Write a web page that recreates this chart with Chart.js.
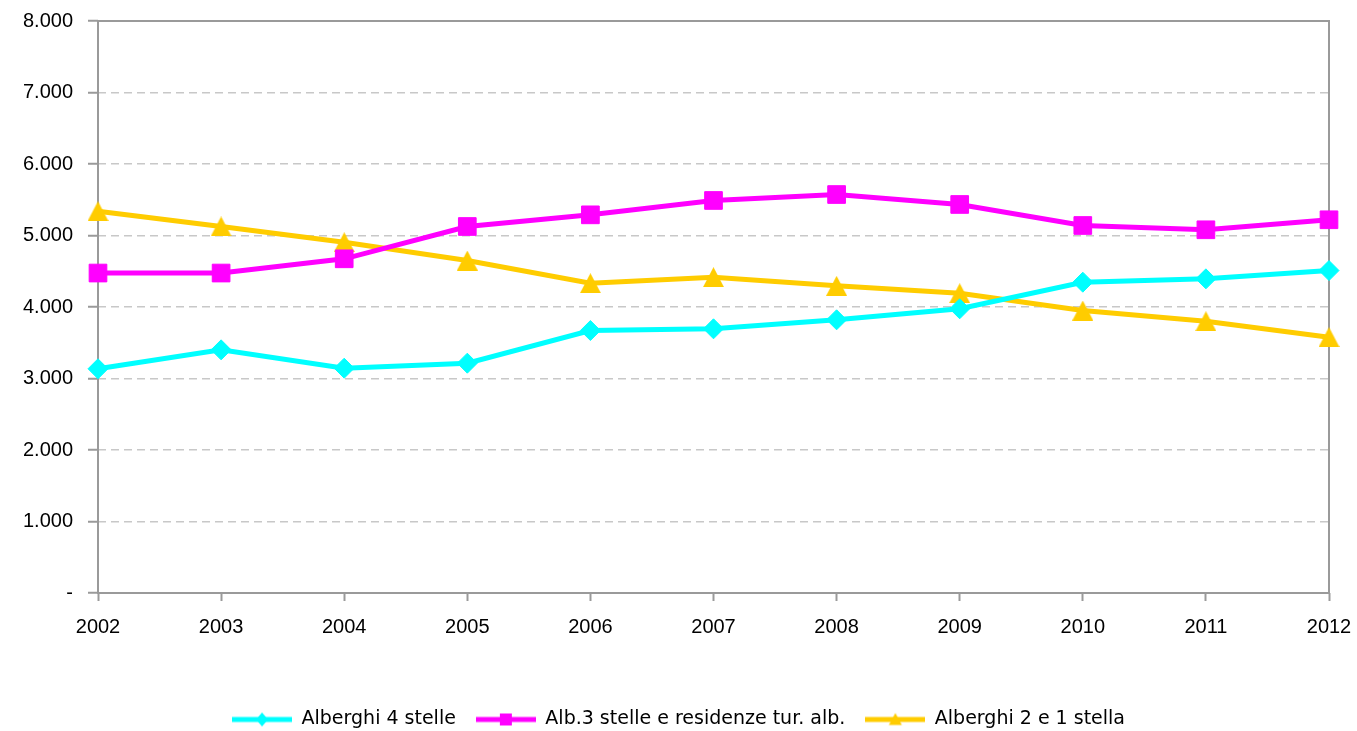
<!DOCTYPE html>
<html>
<head>
<meta charset="utf-8">
<script src="https://cdn.jsdelivr.net/npm/chart.js@4.4.1/dist/chart.umd.min.js"></script>
<style>
  html, body { margin: 0; padding: 0; background: #fff; overflow: hidden; }
  #wrap { position: relative; width: 1357px; height: 739px; }
</style>
</head>
<body>
<div id="wrap"><canvas id="hotelChart"></canvas></div>
<script>
const years = ['2002', '2003', '2004', '2005', '2006', '2007', '2008', '2009', '2010', '2011', '2012'];
const seriesNames = ['Alberghi 4 stelle', 'Alb.3 stelle e residenze tur. alb.', 'Alberghi 2 e 1 stella'];
const hotels4 = [3136, 3401, 3144, 3214, 3671, 3695, 3821, 3975, 4347, 4394, 4510];
const hotels3 = [4475, 4475, 4674, 5126, 5289, 5490, 5573, 5434, 5140, 5080, 5220];
const hotels21 = [5340, 5126, 4906, 4650, 4333, 4417, 4296, 4193, 3951, 3801, 3578];
const yTicks = [0, 1000, 2000, 3000, 4000, 5000, 6000, 7000, 8000];

const CYAN = '#00FFFF';
const MAGENTA = '#FF00FF';
const GOLD = '#FFCC00';
const AXIS = '#9a9a9a';

// triangle marker centred on its box (like the original)
function triangleImage(color) {
    const c = document.createElement('canvas');
    c.width = 21; c.height = 20;
    const g = c.getContext('2d');
    g.fillStyle = color;
    g.beginPath();
    g.moveTo(10.5, 0);
    g.lineTo(21, 20);
    g.lineTo(0, 20);
    g.closePath();
    g.fill();
    return c;
}

// small line + marker sample for the legend
function legendIcon(color, shape) {
    const c = document.createElement('canvas');
    c.width = 60; c.height = 16;
    const g = c.getContext('2d');
    g.strokeStyle = color;
    g.fillStyle = color;
    g.lineWidth = 5;
    g.beginPath();
    g.moveTo(0, 8);
    g.lineTo(60, 8);
    g.stroke();
    g.beginPath();
    if (shape === 'diamond') {
        g.moveTo(30, 1); g.lineTo(36, 8); g.lineTo(30, 15); g.lineTo(24, 8);
    } else if (shape === 'square') {
        g.rect(24, 2, 12, 12);
    } else {
        g.moveTo(30, 1.5); g.lineTo(36.5, 13.5); g.lineTo(23.5, 13.5);
    }
    g.closePath();
    g.fill();
    return c;
}

const legendIcons = [legendIcon(CYAN, 'diamond'), legendIcon(MAGENTA, 'square'), legendIcon(GOLD, 'triangle')];

function formatIt(v) {
    if (v === 0) return '-';
    return String(v).replace(/\B(?=(\d{3})+(?!\d))/g, '.');
}

const plotBorder = {
    id: 'plotBorder',
    afterLayout(chart) {
        // nudge the legend a little to the right, as in the original
        chart.legend.left += 14;
        chart.legend.right += 14;
    },
    beforeDatasetsDraw(chart) {
        const a = chart.chartArea;
        const g = chart.ctx;
        g.save();
        g.strokeStyle = AXIS;
        g.lineWidth = 2;
        g.strokeRect(a.left, a.top, a.right - a.left, a.bottom - a.top);
        g.restore();
    },
};

const ctx = document.getElementById('hotelChart').getContext('2d');

new Chart(ctx, {
    type: 'line',
    data: {
        labels: years,
        datasets: [
            {
                label: seriesNames[0],
                data: hotels4,
                borderColor: CYAN,
                backgroundColor: CYAN,
                borderWidth: 5,
                pointStyle: 'rectRot',
                pointRadius: 10,
                pointBorderWidth: 1,
            },
            {
                label: seriesNames[1],
                data: hotels3,
                borderColor: MAGENTA,
                backgroundColor: MAGENTA,
                borderWidth: 5,
                pointStyle: 'rect',
                pointRadius: 12.5,
                pointBorderWidth: 1,
            },
            {
                label: seriesNames[2],
                data: hotels21,
                borderColor: GOLD,
                backgroundColor: GOLD,
                borderWidth: 5,
                pointStyle: triangleImage(GOLD),
                pointRadius: 10,
            },
        ],
    },
    options: {
        responsive: true,
        maintainAspectRatio: false,
        animation: false,
        layout: { padding: { top: 15, right: 28, left: 0, bottom: 0 } },
        plugins: {
            tooltip: { enabled: false },
            legend: {
                position: 'bottom',
                labels: {
                    usePointStyle: true,
                    pointStyleWidth: 60,
                    padding: 20,
                    color: '#000',
                    font: { family: 'DejaVu Sans', size: 19 },
                    generateLabels(chart) {
                        const items = Chart.defaults.plugins.legend.labels.generateLabels(chart);
                        items.forEach((it, i) => { it.pointStyle = legendIcons[i]; });
                        return items;
                    },
                },
            },
        },
        scales: {
            x: {
                offset: false,
                border: { display: false },
                grid: {
                    drawOnChartArea: false,
                    drawTicks: true,
                    tickLength: 8,
                    tickColor: AXIS,
                    tickWidth: 2,
                },
                ticks: {
                    color: '#000',
                    padding: 14,
                    maxRotation: 0,
                    font: { family: 'Liberation Sans', size: 20 },
                },
                afterFit(s) {
                    s.height = 97;
                    s.paddingLeft = 0;
                    s.paddingRight = 0;
                },
            },
            y: {
                min: 0,
                max: 8000,
                border: { display: false, dash: [8, 5] },
                afterBuildTicks(s) { s.ticks = yTicks.map(v => ({ value: v })); },
                grid: {
                    color: '#c8c8c8',
                    lineWidth: 1.5,
                    tickLength: 10,
                    tickColor: AXIS,
                    tickWidth: 2,
                    tickBorderDash: [],
                },
                ticks: {
                    color: '#000',
                    padding: 15,
                    font: { family: 'Liberation Sans', size: 20, lineHeight: 0.6 },
                    callback: (v) => formatIt(v),
                },
                afterFit(s) { s.width = 98; },
            },
        },
    },
    plugins: [plotBorder],
});
</script>
</body>
</html>
